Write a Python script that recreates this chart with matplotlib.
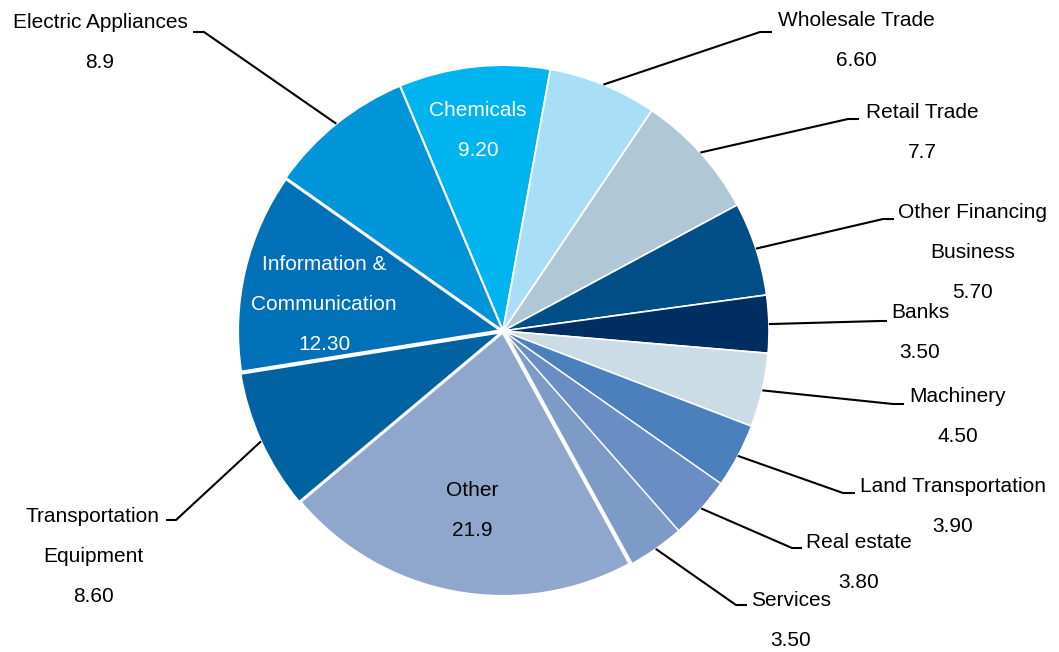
import numpy as np
import matplotlib
matplotlib.use("Agg")
import matplotlib.pyplot as plt

# ── data ─────────────────────────────────────────────────────────────────────
sectors = ["Chemicals", "Wholesale Trade", "Retail Trade",
           "Other Financing\nBusiness", "Banks", "Machinery",
           "Land Transportation", "Real estate", "Services", "Other",
           "Transportation\nEquipment", "Information &\nCommunication",
           "Electric Appliances"]
value_text = ["9.20", "6.60", "7.7", "5.70", "3.50", "4.50", "3.90", "3.80",
              "3.50", "21.9", "8.60", "12.30", "8.9"]
values = [float(v) for v in value_text]

colors = ["#00B4EF", "#A8DFF7", "#B0C8D5", "#004E87", "#002E63", "#CCDCE6",
          "#4C80BC", "#6A8EC4", "#7E9BC8", "#8FA6CD", "#0062A1", "#0071B9",
          "#0094D9"]
edge_w = [1.5, 1.2, 1.2, 1.2, 1.2, 1.2, 1.0, 1.0, 1.0, 3.0, 1.5, 3.0, 1.5]

# label layout: (x, first line y, text colour, leader elbow, leader end)
layout = [
    (478, 110, "white", None, None),
    (856, 20, "black", (760, 32), (772, 32)),
    (922, 112, "black", (848, 119), (859, 119)),
    (973, 212, "black", (883, 219), (894, 219)),
    (920, 313, "black", (880, 321), (887, 321)),
    (958, 397, "black", (893, 404), (904, 404)),
    (953, 487, "black", (843, 493), (855, 493)),
    (859, 542, "black", (792, 548), (802, 548)),
    (791, 600, "black", (736, 605), (747, 605)),
    (472, 490, "black", None, None),
    (93, 516, "black", (176, 520), (166, 520)),
    (324, 264, "white", None, None),
    (100, 22, "black", (204, 32), (193, 32)),
]

W, H = 1059, 652
CX, CY, R = 503, 331, 266
START = -112.8          # y axis runs downward, so ccw here = clockwise on screen
LINE = 40               # px between label lines

plt.rcParams["font.family"] = ["Liberation Sans", "DejaVu Sans"]

fig = plt.figure(figsize=(W / 100, H / 100), dpi=100)
ax = fig.add_axes([0, 0, 1, 1])

wedges, _ = ax.pie(values, colors=colors, center=(CX, CY), radius=R,
                   startangle=START, counterclock=True,
                   wedgeprops=dict(edgecolor="white", linewidth=1.0))
for wd, lw in zip(wedges, edge_w):
    wd.set_linewidth(lw)

ax.set_xlim(0, W)
ax.set_ylim(H, 0)
ax.set_aspect("equal")
ax.axis("off")

total = sum(values)
cum = np.cumsum([0] + values)
for i, (name, val) in enumerate(zip(sectors, value_text)):
    x, y0, col, elbow, end = layout[i]
    lines = name.split("\n") + [val]
    for k, s in enumerate(lines):
        ax.text(x, y0 + k * LINE, s, ha="center", va="center",
                fontsize=15, color=col)
    if elbow is None:
        continue
    mid = np.radians(START + (cum[i] + cum[i + 1]) / 2 / total * 360)
    ax_, ay_ = CX + R * np.cos(mid), CY + R * np.sin(mid)
    ax.plot([ax_, elbow[0], end[0]], [ay_, elbow[1], end[1]],
            color="black", lw=1.5, solid_capstyle="butt")

fig.savefig("out.png", dpi=100)
